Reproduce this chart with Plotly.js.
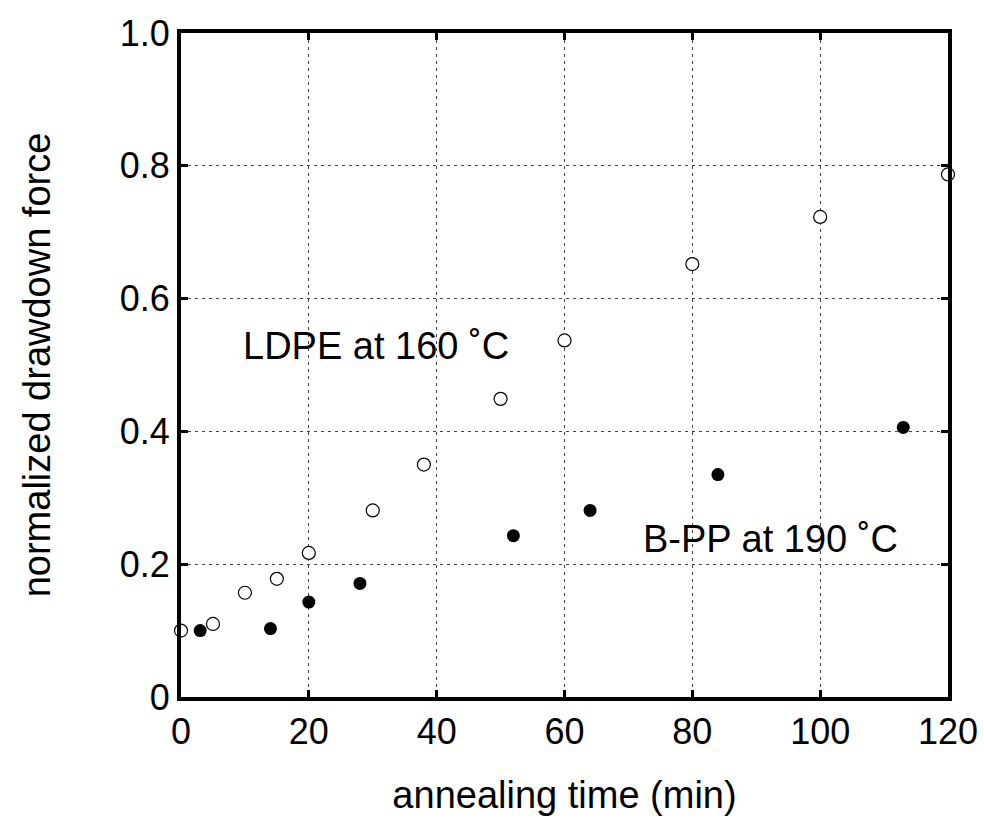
<!DOCTYPE html>
<html>
<head>
<meta charset="utf-8">
<script src="https://cdn.plot.ly/plotly-3.0.1.min.js"></script>
<style>html,body{margin:0;padding:0;background:#fff;}#chart{width:984px;height:836px;}</style>
</head>
<body>
<div id="chart"></div>
<script>
// LDPE at 160 C (open circles)
const ldpeTime = [0, 5, 10, 15, 20, 30, 38, 50, 60, 80, 100, 120];
const ldpeForce = [0.100, 0.110, 0.157, 0.178, 0.217, 0.281, 0.350, 0.449, 0.537, 0.652, 0.723, 0.787];
// B-PP at 190 C (filled circles)
const bppTime = [3, 14, 20, 28, 52, 64, 84, 113];
const bppForce = [0.100, 0.103, 0.143, 0.171, 0.243, 0.281, 0.335, 0.406];
const xTicks = [0, 20, 40, 60, 80, 100, 120];
const yTicks = [0, 0.2, 0.4, 0.6, 0.8, 1.0];
const yTickText = ['0', '0.2', '0.4', '0.6', '0.8', '1.0'];
const labels = [
  {text: 'LDPE at 160 \u02DAC', x: 30.5, y: 0.528},
  {text: 'B-PP at 190 \u02DAC', x: 92.3, y: 0.238}
];

const fam = 'Liberation Sans, Arial, sans-serif';
const tickFont = {family: fam, size: 36, color: '#000'};
const titleFont = {family: fam, size: 38, color: '#000'};

const traces = [
  {x: ldpeTime, y: ldpeForce, mode: 'markers', type: 'scatter', cliponaxis: false,
   marker: {symbol: 'circle', size: 13, color: '#fff', line: {color: '#000', width: 1.2}}},
  {x: bppTime, y: bppForce, mode: 'markers', type: 'scatter', cliponaxis: false,
   marker: {symbol: 'circle', size: 13, color: '#000', line: {color: '#000', width: 0}}}
];

const axisCommon = {
  showline: true, linecolor: '#000', linewidth: 4, mirror: 'ticks',
  ticks: 'inside', ticklen: 7, tickwidth: 3, tickcolor: '#000',
  showgrid: true, gridcolor: '#444', gridwidth: 1, griddash: '3px,4px',
  zeroline: false, tickfont: tickFont
};

const layout = {
  width: 984, height: 836,
  margin: {l: 181, r: 36, t: 33, b: 139},
  paper_bgcolor: '#fff', plot_bgcolor: '#fff',
  showlegend: false,
  font: tickFont,
  xaxis: Object.assign({}, axisCommon, {
    range: [0, 120], tickvals: xTicks, ticktext: xTicks.map(String),
    title: {text: 'annealing time (min)', font: titleFont, standoff: 31}
  }),
  yaxis: Object.assign({}, axisCommon, {
    range: [0, 1.0], tickvals: yTicks, ticktext: yTickText,
    title: {text: 'normalized drawdown force', font: titleFont, standoff: 58}
  }),
  annotations: labels.map(l => ({
    text: l.text, x: l.x, y: l.y, xref: 'x', yref: 'y',
    showarrow: false, font: titleFont, xanchor: 'center', yanchor: 'middle'
  }))
};

Plotly.newPlot('chart', traces, layout, {displayModeBar: false, staticPlot: true});
</script>
</body>
</html>
